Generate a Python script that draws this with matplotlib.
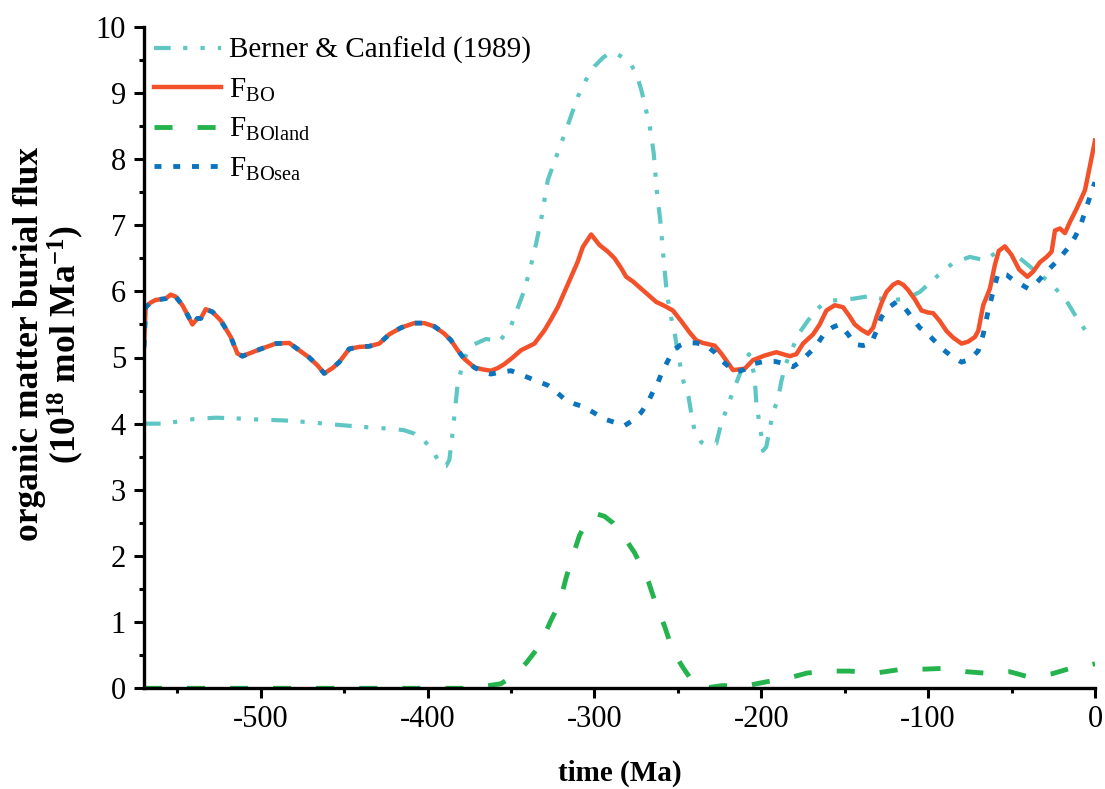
import numpy as np
import matplotlib
matplotlib.use("Agg")
import matplotlib.pyplot as plt
from matplotlib.ticker import MultipleLocator

# ---- data (time in Ma, flux in 10^18 mol/Ma) ----
# Early interval where total burial equals marine burial
shared_t = [-570, -569, -566, -563, -557, -554, -551, -547, -544, -541, -538, -536,
            -533, -529, -524, -518, -514, -511, -506, -501, -491, -483, -477, -471,
            -466, -462, -457, -453, -447, -441, -435, -429, -423, -416, -408, -402,
            -396, -390, -386, -382, -378, -372]
shared_v = [5.16, 5.76, 5.83, 5.87, 5.89, 5.95, 5.92, 5.79, 5.65, 5.50, 5.59, 5.59,
            5.73, 5.69, 5.56, 5.31, 5.06, 5.02, 5.07, 5.12, 5.21, 5.22, 5.11, 5.00,
            4.88, 4.76, 4.84, 4.93, 5.13, 5.16, 5.17, 5.21, 5.35, 5.45, 5.52, 5.52,
            5.47, 5.36, 5.26, 5.11, 4.98, 4.85]

fbo_tail_t = [-367, -362, -358, -354, -349, -344, -340, -336, -330, -326, -322, -318,
              -314, -310, -307, -302, -297, -292, -288, -284, -281, -277, -272, -268,
              -263, -258, -253, -248, -243, -239, -235, -228, -224, -220, -217, -210,
              -205, -198, -191, -183, -179, -175, -169, -165, -161, -156, -151, -147,
              -144, -140, -136, -133, -131, -128, -125, -121, -118, -115, -112, -108,
              -104, -100, -97, -93, -89, -85, -80, -76, -72, -70, -67, -63, -60, -57.7,
              -54, -50, -45.5, -40.5, -37, -33, -29, -26, -24, -21, -18, -15, -11, -6,
              -3, 0]
fbo_tail_v = [4.82, 4.80, 4.84, 4.90, 5.00, 5.11, 5.16, 5.21, 5.41, 5.58, 5.76, 5.99,
              6.22, 6.45, 6.67, 6.86, 6.70, 6.60, 6.50, 6.35, 6.22, 6.15, 6.04, 5.95,
              5.84, 5.78, 5.71, 5.55, 5.38, 5.26, 5.22, 5.18, 5.06, 4.92, 4.81, 4.83,
              4.96, 5.03, 5.08, 5.02, 5.05, 5.21, 5.35, 5.50, 5.71, 5.79, 5.76, 5.62,
              5.50, 5.42, 5.36, 5.45, 5.61, 5.82, 5.99, 6.10, 6.14, 6.10, 6.02, 5.88,
              5.71, 5.68, 5.67, 5.55, 5.40, 5.30, 5.21, 5.24, 5.31, 5.40, 5.79, 6.04,
              6.40, 6.61, 6.68, 6.55, 6.33, 6.22, 6.30, 6.44, 6.52, 6.60, 6.92, 6.95,
              6.88, 7.05, 7.25, 7.53, 7.90, 8.28]

sea_tail_t = [-367, -362, -356, -350, -345, -340, -334, -328, -322, -317, -312, -306,
              -300, -294, -288, -282, -277, -272, -268, -265, -262, -259.5, -256, -253,
              -249, -245, -239, -233, -228, -224, -219, -215, -210, -204, -198, -192,
              -186, -181, -176, -170, -166, -162, -157, -153, -148, -144, -139, -134,
              -131, -128, -124, -119, -114, -109, -105, -100, -95, -91, -85, -80, -75,
              -70, -67, -64, -61, -58, -53, -49, -44, -40, -35, -29, -23, -16, -12, -9,
              -5, -1, 0]
sea_tail_v = [4.78, 4.75, 4.78, 4.80, 4.75, 4.70, 4.64, 4.58, 4.46, 4.35, 4.30, 4.25,
              4.16, 4.07, 4.02, 3.97, 4.05, 4.17, 4.32, 4.48, 4.62, 4.78, 4.95, 5.10,
              5.18, 5.22, 5.22, 5.18, 5.08, 4.96, 4.85, 4.78, 4.82, 4.91, 4.94, 4.94,
              4.91, 4.86, 4.95, 5.10, 5.22, 5.37, 5.46, 5.50, 5.35, 5.20, 5.18, 5.22,
              5.40, 5.61, 5.75, 5.84, 5.75, 5.58, 5.45, 5.35, 5.22, 5.12, 5.00, 4.93,
              4.97, 5.10, 5.35, 5.71, 6.00, 6.28, 6.25, 6.17, 6.10, 6.04, 6.13, 6.30,
              6.45, 6.66, 6.82, 6.97, 7.28, 7.58, 7.65]

berner_t = [-570, -560, -550, -540, -527, -515, -500, -487, -470, -453, -433, -420,
            -414, -408, -402, -397, -392, -389, -387, -385, -382, -379, -376, -372,
            -365, -360, -357, -350, -346, -342, -338, -335, -332, -328, -324, -317,
            -310, -305, -300, -295, -291, -286, -282, -278, -275, -272, -269.5, -266.5,
            -264.5, -262.5, -260.6, -258.5, -256.6, -254, -252, -250.6, -248.6, -246.6,
            -243.6, -242, -240, -236, -234.7, -227, -224.3, -220.4, -216.8, -212.9,
            -209.8, -207.4, -206, -204, -203, -201.5, -200, -199, -197, -195, -193,
            -190, -188, -185.4, -181, -177, -172, -167, -163, -158, -152.7, -144.6,
            -134.5, -124, -113, -105, -95, -85, -75, -66, -55, -45.5, -35.4, -26.4,
            -17.2, -11.2, -5, 0]
berner_v = [4.00, 4.00, 4.03, 4.07, 4.09, 4.08, 4.06, 4.05, 4.02, 3.98, 3.94, 3.92,
            3.90, 3.85, 3.74, 3.60, 3.36, 3.36, 3.45, 3.87, 4.60, 4.90, 5.10, 5.20,
            5.28, 5.26, 5.24, 5.48, 5.75, 6.02, 6.40, 6.72, 7.08, 7.68, 7.96, 8.44,
            8.94, 9.20, 9.40, 9.53, 9.60, 9.58, 9.52, 9.42, 9.30, 9.05, 8.79, 8.44,
            8.09, 7.48, 7.08, 6.47, 5.96, 5.60, 5.38, 5.16, 4.88, 4.63,
            4.40, 4.16, 3.89, 3.72, 3.70, 3.70, 3.98, 4.25, 4.50, 4.75,
            4.96, 5.05, 4.95, 4.70, 4.32, 4.06, 3.82, 3.59, 3.65, 3.92, 4.17,
            4.37, 4.64, 4.90, 5.16, 5.38, 5.56, 5.72, 5.81, 5.86, 5.87, 5.89,
            5.93, 5.86, 5.89, 5.99, 6.22, 6.43, 6.52, 6.47, 6.66, 6.51, 6.30, 6.12,
            5.86, 5.61, 5.38, 5.35]

land_t = [-570, -370, -366, -356, -348, -341, -333, -326, -321, -317, -314, -309,
          -303, -298, -294, -289, -281, -276, -272, -267.5, -262.5, -258, -253, -246.6,
          -240, -234.7, -223.6, -208.6, -198.6, -190, -183, -172.6, -165, -157.5,
          -146.9, -131.4, -118, -102, -92, -76.6, -66.6, -51, -41, -35, -25.7, -15,
          -8, 0]
land_v = [0, 0, 0.03, 0.07, 0.20, 0.38, 0.64, 1.03, 1.28, 1.67, 1.92, 2.31,
          2.59, 2.63, 2.60, 2.50, 2.24, 2.05, 1.85, 1.60, 1.22, 0.94, 0.56, 0.30,
          0.06, 0.0, 0.04, 0.04, 0.09, 0.13, 0.16, 0.23, 0.25, 0.26,
          0.26, 0.23, 0.28, 0.29, 0.30, 0.25, 0.23, 0.25, 0.18, 0.19, 0.22, 0.30,
          0.33, 0.37]

labels = ["Berner & Canfield (1989)", r"F$_{\mathrm{BO}}$",
          r"F$_{\mathrm{BOland}}$", r"F$_{\mathrm{BOsea}}$"]
colors = ["#5EC7C3", "#F2512A", "#25B34E", "#0C74BF"]

fbo_t = shared_t + fbo_tail_t
fbo_v = shared_v + fbo_tail_v
sea_t = shared_t + sea_tail_t
sea_v = shared_v + sea_tail_v

# ---- styling ----
plt.rcParams["font.family"] = ["Liberation Serif", "DejaVu Serif"]
plt.rcParams["mathtext.fontset"] = "custom"
plt.rcParams["mathtext.rm"] = "Liberation Serif"
plt.rcParams["mathtext.it"] = "Liberation Serif:italic"
plt.rcParams["mathtext.bf"] = "Liberation Serif:bold"
plt.rcParams["axes.unicode_minus"] = False
plt.rcParams["lines.scale_dashes"] = False

W, H = 1105, 789
fig = plt.figure(figsize=(W / 100, H / 100), dpi=100)
x0, x1, y0, y1 = 144, 1095, 688.3, 26.7
ax = fig.add_axes([x0 / W, 1 - y0 / H, (x1 - x0) / W, (y0 - y1) / H])

ax.plot(berner_t, berner_v, color=colors[0], lw=3.0,
        dashes=(12, 9, 3, 9.5, 3, 9.5), label=labels[0], solid_capstyle="butt")
ax.plot(fbo_t, fbo_v, color=colors[1], lw=3.2, label=labels[1])
ax.plot(land_t, land_v, color=colors[2], lw=3.5, dashes=(13, 18), label=labels[2])
ax.plot(sea_t, sea_v, color=colors[3], lw=3.5, dashes=(5, 8.5), label=labels[3])

ax.set_xlim(-570, 0)
ax.set_ylim(0, 10)
ax.xaxis.set_major_locator(MultipleLocator(100))
ax.xaxis.set_minor_locator(MultipleLocator(50))
ax.yaxis.set_major_locator(MultipleLocator(1))
ax.yaxis.set_minor_locator(MultipleLocator(0.5))

for s in ("top", "right"):
    ax.spines[s].set_visible(False)
for s in ("left", "bottom"):
    ax.spines[s].set_linewidth(2.4)
    ax.spines[s].set_capstyle("projecting")

ax.tick_params(which="major", direction="out", length=7, width=2.2,
               labelsize=22)
ax.tick_params(which="minor", direction="out", length=3.3, width=2.2)
ax.tick_params(axis="x", which="major", pad=5)
ax.tick_params(axis="y", which="major", pad=6)

ax.set_xlabel("time (Ma)", fontsize=21, fontweight="bold")
ax.xaxis.set_label_coords(0.5, -0.108)
ax.set_ylabel("organic matter burial flux\n"
              r"(10$^{\mathbf{18}}$ mol Ma$^{\mathbf{-1}}$)",
              fontsize=25.5, fontweight="bold", linespacing=1.0)
ax.yaxis.set_label_coords(-0.061, 0.52)

leg = ax.legend(loc="upper left", bbox_to_anchor=(0.0, 1.0), frameon=False,
                fontsize=21, handlelength=2.3, handletextpad=0.27,
                labelspacing=0.42, borderaxespad=0.15, borderpad=0.2)

fig.savefig("out.png", dpi=100)
